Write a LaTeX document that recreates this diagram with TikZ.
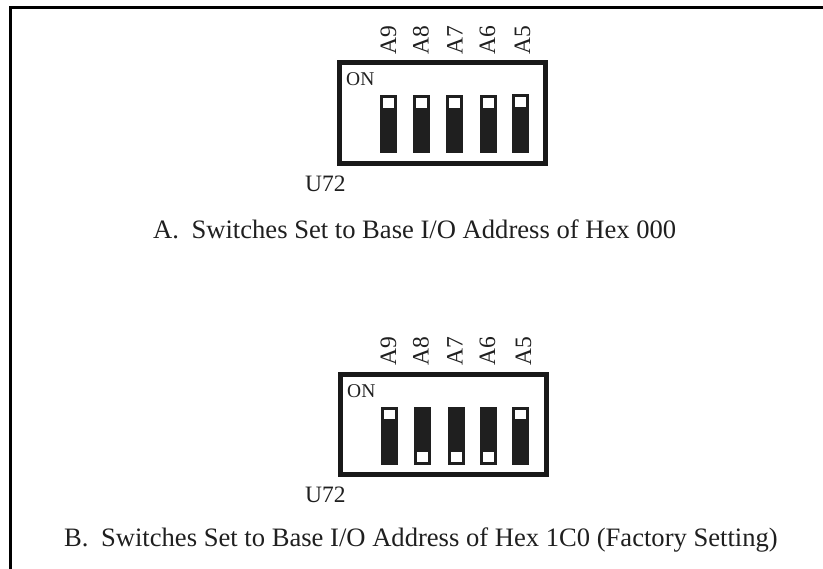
\documentclass[tikz,border=0pt]{standalone}
\usepackage{fontspec}
\setmainfont{Liberation Serif}
\begin{document}
\begin{tikzpicture}[x=1pt,y=-1pt,
  frameline/.style={line width=3pt,line cap=butt},
  boxline/.style={draw=black!90,line width=5pt},
  lever/.style={fill=black!88,draw=none},
  win/.style={fill=white,draw=none},
  onlab/.style={inner sep=0pt,anchor=base west,font=\fontsize{19.5}{22}\selectfont,text=black!88},
  ulab/.style={inner sep=0pt,anchor=base west,font=\fontsize{23.5}{26}\selectfont,text=black!88},
  captext/.style={inner sep=0pt,anchor=base west,font=\fontsize{26.6}{30}\selectfont,text=black!88},
  pinlab/.style={inner sep=0pt,rotate=90,anchor=base west,font=\fontsize{23.5}{26}\selectfont,text=black!88}]
\useasboundingbox (0,0) rectangle (823,569);
\draw[frameline] (10.5,569) -- (10.5,7.5) -- (823,7.5);
% Diagram A
\draw[boxline] (339.5,62.5) rectangle (545,163.5);
\node[onlab] (onA) at (346,86) {ON};
\node[ulab] (uA) at (305,192) {U72};
\foreach \x/\t/\tp/\b in {388.5/A9/95/396,421.5/A8/95/428.5,454.5/A7/95/462.5,488.5/A6/95/495,520.5/A5/94/530}{
  \fill[lever] (\x-8.5,\tp) rectangle (\x+8.5,153);
  \fill[win] (\x-5.5,\tp+3) rectangle (\x+5.5,\tp+13);
  \node[pinlab] (p\t) at (\b,55) {\t};
}
\node[captext] (capA) at (153,239) {A.\hspace{0.47em}Switches Set to Base I/O Address of Hex 000};
% Diagram B
\draw[boxline] (340.5,374.5) rectangle (546,474.5);
\node[onlab] (onB) at (347,398) {ON};
\node[ulab] (uB) at (305,503) {U72};
\foreach \x/\t/\w/\b in {389.5/A9/0/396,422.5/A8/1/428.7,456/A7/1/462.7,488.5/A6/1/495,520.5/A5/0/531}{
  \fill[lever] (\x-8.5,407) rectangle (\x+8.5,465);
  \ifnum\w=0
    \fill[win] (\x-5.5,410) rectangle (\x+5.5,419.5);
  \else
    \fill[win] (\x-5.5,452) rectangle (\x+5.5,462);
  \fi
  \node[pinlab] (q\t) at (\b,366) {\t};
}
\node[captext] (capB) at (64,547) {B.\hspace{0.47em}Switches Set to Base I/O Address of Hex 1C0 (Factory Setting)};
\end{tikzpicture}
\end{document}
